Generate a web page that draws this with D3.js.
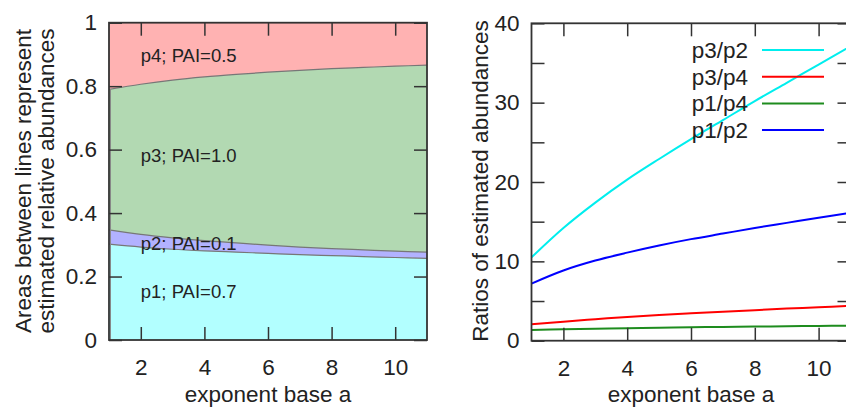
<!DOCTYPE html>
<html>
<head>
<meta charset="utf-8">
<script src="https://cdn.jsdelivr.net/npm/d3@7"></script>
<style>
  body { margin: 0; background: #fff; }
  text { font-family: 'Liberation Sans', Arial, sans-serif; fill: #222; }
</style>
</head>
<body>
<script>
// exponent base a
const aValues = [1, 2, 3, 4, 5, 6, 7, 8, 9, 10, 11]

// estimated relative abundances (stacked, left panel)
const p1 = [0.302, 0.293, 0.286, 0.281, 0.277, 0.273, 0.269, 0.266, 0.263, 0.260, 0.257]
const p2 = [0.045, 0.040, 0.036, 0.032, 0.029, 0.026, 0.024, 0.022, 0.021, 0.020, 0.020]
const p3 = [0.443, 0.473, 0.497, 0.516, 0.531, 0.545, 0.557, 0.567, 0.575, 0.583, 0.589]
const p4 = [0.210, 0.194, 0.181, 0.171, 0.163, 0.156, 0.150, 0.145, 0.141, 0.137, 0.134]
const layerNames = ['p1', 'p2', 'p3', 'p4']
const layerLabels = ['p1; PAI=0.7', 'p2; PAI=0.1', 'p3; PAI=1.0', 'p4; PAI=0.5']
const layerLabelAt = [[2, 0.133], [2, 0.284], [2, 0.56], [2, 0.877]]

// ratios of estimated abundances (right panel)
const ratioNames = ['p3/p2', 'p3/p4', 'p1/p4', 'p1/p2']
const p3p2 = [10.5, 14.2, 17.4, 20.3, 22.9, 25.4, 27.8, 30.2, 32.5, 34.8, 37.1]
const p3p4 = [2.07, 2.4, 2.7, 3.0, 3.25, 3.45, 3.65, 3.85, 4.05, 4.2, 4.4]
const p1p4 = [1.35, 1.45, 1.52, 1.58, 1.64, 1.69, 1.74, 1.78, 1.82, 1.86, 1.9]
const p1p2 = [7.2, 8.85, 10.1, 11.1, 12.0, 12.8, 13.5, 14.2, 14.85, 15.5, 16.1]

const xTicks = [2, 4, 6, 8, 10]
const leftYTicks = [0, 0.2, 0.4, 0.6, 0.8, 1]
const rightYTicks = [0, 5, 10, 15, 20, 25, 30, 35, 40]

const W = 846
const H = 408
const tickLen = 13
const frameColor = '#333'
const bigFont = 22.5

let svg = d3.select('body')
  .append('svg')
  .attr('width', W)
  .attr('height', H)

function frameAxes(g, x, y, yTicks, yFmt, box) {
  g.append('g')
    .attr('transform', 'translate(0,' + box.bottom + ')')
    .call(d3.axisBottom(x).tickValues(xTicks).tickSize(-tickLen).tickPadding(19))
  g.append('g')
    .attr('transform', 'translate(0,' + box.top + ')')
    .call(d3.axisTop(x).tickValues(xTicks).tickSize(-tickLen).tickFormat(''))
  g.append('g')
    .attr('transform', 'translate(' + box.left + ',0)')
    .call(d3.axisLeft(y).tickValues(yTicks).tickSize(-tickLen).tickPadding(12).tickFormat(yFmt))
  g.append('g')
    .attr('transform', 'translate(' + box.right + ',0)')
    .call(d3.axisRight(y).tickValues(yTicks).tickSize(-tickLen).tickFormat(''))
  g.selectAll('.domain').remove()
  g.selectAll('.tick line').attr('stroke', frameColor).attr('stroke-width', 1.5)
  g.selectAll('.tick text')
    .attr('font-size', bigFont)
    .attr('font-family', "'Liberation Sans', Arial, sans-serif")
    .attr('fill', '#222')
  g.append('rect')
    .attr('x', box.left)
    .attr('y', box.top)
    .attr('width', box.right - box.left)
    .attr('height', box.bottom - box.top)
    .attr('fill', 'none')
    .attr('stroke', frameColor)
    .attr('stroke-width', 1.8)
}

// ---------- left panel: stacked areas ----------
let L = { left: 109, right: 427, top: 22.7, bottom: 340 }
let xL = d3.scaleLinear().domain([1, 11]).range([L.left, L.right])
let yL = d3.scaleLinear().domain([0, 1]).range([L.bottom, L.top])

let rows = aValues.map((a, i) => ({ a: a, p1: p1[i], p2: p2[i], p3: p3[i], p4: p4[i] }))
let stacked = d3.stack().keys(layerNames)(rows)
let fills = ['#00ffff', '#0000ff', '#008000', '#ff0000']

let gL = svg.append('g')
let area = d3.area()
  .x(d => xL(d.data.a))
  .y0(d => yL(d[0]))
  .y1(d => yL(d[1]))
  .curve(d3.curveCatmullRom)

gL.selectAll('path.layer')
  .data(stacked)
  .enter()
  .append('path')
  .attr('class', 'layer')
  .attr('d', area)
  .attr('fill', (d, i) => fills[i])
  .attr('fill-opacity', 0.3)

let edge = d3.line()
  .x(d => xL(d.data.a))
  .y(d => yL(d[1]))
  .curve(d3.curveCatmullRom)

gL.selectAll('path.edge')
  .data(stacked.slice(0, 3))
  .enter()
  .append('path')
  .attr('class', 'edge')
  .attr('d', edge)
  .attr('fill', 'none')
  .attr('stroke', '#777')
  .attr('stroke-width', 1.2)

gL.append('line')
  .attr('x1', L.left + 1.5).attr('x2', L.left + 1.5)
  .attr('y1', yL(0)).attr('y2', yL(1 - p4[0]))
  .attr('stroke', '#888')
  .attr('stroke-width', 1)

gL.selectAll('text.lbl')
  .data(layerLabels)
  .enter()
  .append('text')
  .attr('class', 'lbl')
  .attr('x', (d, i) => xL(layerLabelAt[i][0]))
  .attr('y', (d, i) => yL(layerLabelAt[i][1]))
  .attr('font-size', 18.5)
  .text(d => d)

frameAxes(gL, xL, yL, leftYTicks, d3.format('~g'), L)

gL.append('text')
  .attr('x', (L.left + L.right) / 2)
  .attr('y', 401.5)
  .attr('text-anchor', 'middle')
  .attr('font-size', bigFont)
  .text('exponent base a')

gL.append('text')
  .attr('transform', 'translate(31,181) rotate(-90)')
  .attr('text-anchor', 'middle')
  .attr('font-size', bigFont)
  .text('Areas between lines represent')

gL.append('text')
  .attr('transform', 'translate(53.5,181) rotate(-90)')
  .attr('text-anchor', 'middle')
  .attr('font-size', bigFont)
  .text('estimated relative abundances')

// ---------- right panel: ratios ----------
let R = { left: 531.5, right: 850.5, top: 23.3, bottom: 340.7 }
let xR = d3.scaleLinear().domain([1, 11]).range([R.left, R.right])
let yR = d3.scaleLinear().domain([0, 40]).range([R.bottom, R.top])

let ratioSeries = [p3p2, p3p4, p1p4, p1p2]
let ratioColors = ['#00eeee', '#ff0000', '#1e8c1e', '#0000ff']

let gR = svg.append('g')
let ratioLine = d3.line()
  .x((d, i) => xR(aValues[i]))
  .y(d => yR(d))
  .curve(d3.curveCatmullRom)

gR.selectAll('path.ratio')
  .data(ratioSeries)
  .enter()
  .append('path')
  .attr('class', 'ratio')
  .attr('d', ratioLine)
  .attr('fill', 'none')
  .attr('stroke', (d, i) => ratioColors[i])
  .attr('stroke-width', 2)

frameAxes(gR, xR, yR, rightYTicks, d => (d % 10 === 0 ? d : ''), R)

let legend = gR.selectAll('g.leg')
  .data(ratioNames)
  .enter()
  .append('g')
  .attr('class', 'leg')
  .attr('transform', (d, i) => 'translate(0,' + (50 + i * 26.7) + ')')

legend.append('text')
  .attr('x', 748)
  .attr('y', 8)
  .attr('text-anchor', 'end')
  .attr('font-size', bigFont)
  .text(d => d)

legend.append('line')
  .attr('x1', 762).attr('x2', 824)
  .attr('stroke', (d, i) => ratioColors[i])
  .attr('stroke-width', 2)

gR.append('text')
  .attr('x', (R.left + R.right) / 2)
  .attr('y', 401.5)
  .attr('text-anchor', 'middle')
  .attr('font-size', bigFont)
  .text('exponent base a')

gR.append('text')
  .attr('transform', 'translate(488,181) rotate(-90)')
  .attr('text-anchor', 'middle')
  .attr('font-size', bigFont)
  .text('Ratios of estimated abundances')
</script>
</body>
</html>
